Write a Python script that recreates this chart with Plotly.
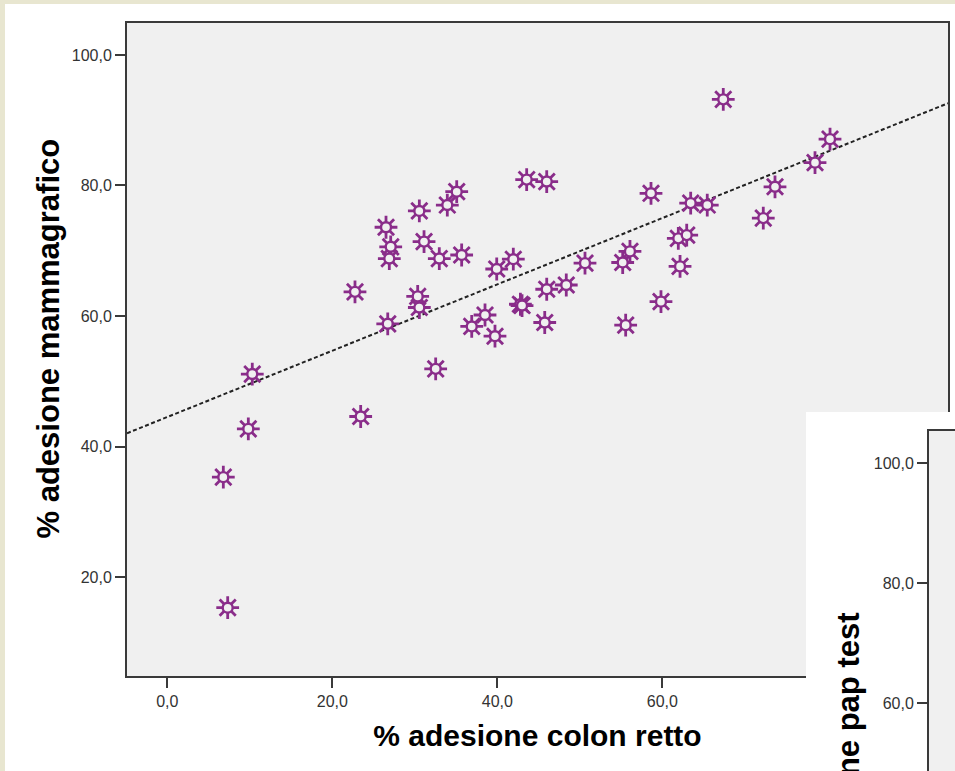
import numpy as np
import plotly.graph_objects as go

# ---------------- data ----------------
colon_retto = [7.32, 6.79, 9.82, 10.30, 22.75, 23.44, 26.51, 27.08, 26.91, 26.72,
               30.55, 31.12, 30.35, 30.55, 32.97, 32.53, 33.94, 35.08, 35.68, 36.90,
               38.51, 39.72, 39.93, 41.94, 42.80, 43.00, 43.56, 45.99, 45.75, 45.99,
               48.36, 50.63, 55.20, 56.08, 55.56, 58.63, 59.84, 62.15, 61.94, 62.96,
               63.44, 65.45, 67.39, 72.24, 73.66, 78.51, 80.33]
mammografico = [15.3, 35.3, 42.7, 51.1, 63.7, 44.6, 73.6, 70.6, 68.8, 58.8,
                76.1, 71.4, 63.0, 61.3, 68.8, 51.9, 77.0, 79.05, 69.35, 58.4,
                60.15, 56.9, 67.2, 68.7, 61.8, 61.6, 80.9, 80.6, 59.0, 64.1,
                64.75, 68.1, 68.2, 69.9, 58.6, 78.8, 62.2, 67.6, 71.9, 72.4,
                77.3, 77.0, 93.2, 75.0, 79.8, 83.5, 87.1]

x_title = "% adesione colon retto"
y_title = "% adesione mammagrafico"
y2_title = "% adesione pap test"

x_range = [-4.885, 94.63]
y_range = [4.83, 104.9]
pap_y_range = [48.67, 105.33]
tick_step = 20

# ---------------- style ----------------
W, H = 955, 771
PURPLE = "#8a2d8a"
PLOT_BG = "#f0f0f0"
BEIGE = "#e8e6d0"
AXIS = "#3a3a3a"
FONT = "Liberation Sans, Arial, sans-serif"

# regression (fit line at total)
slope, intercept = np.polyfit(colon_retto, mammografico, 1)
fit_x = np.array(x_range)
fit_y = intercept + slope * fit_x

fig = go.Figure()
fig.add_trace(go.Scatter(x=fit_x, y=fit_y, mode="lines",
                         line=dict(color="#222222", width=2, dash="4px,2.5px"),
                         hoverinfo="skip"))
fig.add_trace(go.Scatter(x=colon_retto, y=mammografico, mode="markers",
                         marker=dict(symbol="asterisk-open", size=19, color=PURPLE,
                                     line=dict(width=2.8, color=PURPLE))))
fig.add_trace(go.Scatter(x=colon_retto, y=mammografico, mode="markers",
                         marker=dict(symbol="circle", size=10, color=PLOT_BG,
                                     line=dict(width=2.4, color=PURPLE))))
# overlapping white panel and second chart (pap test)
fig.add_trace(go.Scatter(x=[], y=[], xaxis="x2", yaxis="y2"))
fig.add_trace(go.Scatter(x=[], y=[], xaxis="x3", yaxis="y3"))

tick_common = dict(ticks="outside", ticklen=10, tickwidth=2, tickcolor=AXIS,
                   showline=True, linecolor=AXIS, linewidth=2,
                   showgrid=False, zeroline=False, tickformat=".1f",
                   tick0=0, dtick=tick_step,
                   tickfont=dict(size=16, color="#333333", family=FONT))
title_font_x = dict(size=30, color="black", family=FONT, weight="bold")
title_font_y = dict(size=31, color="black", family=FONT, weight="bold")

fig.update_layout(
    width=W, height=H,
    margin=dict(l=0, r=0, t=0, b=0, pad=0),
    paper_bgcolor="white", plot_bgcolor=PLOT_BG,
    showlegend=False, separators=",.",
    font=dict(family=FONT, color="#333333"),
    xaxis=dict(domain=[127 / W, 948 / W], range=x_range, mirror=True, anchor="y",
               title=dict(text=x_title, font=title_font_x, standoff=16),
               **tick_common),
    yaxis=dict(domain=[1 - 676 / H, 1 - 23 / H], range=y_range, mirror=True, anchor="x",
               **tick_common),
    xaxis2=dict(domain=[806 / W, 1], range=[0, 1], visible=False, anchor="y2"),
    yaxis2=dict(domain=[0, 1 - 412 / H], range=[0, 1], visible=False, anchor="x2"),
    xaxis3=dict(domain=[929 / W, 1], range=x_range, side="top", showline=True, anchor="y3",
                linecolor=AXIS, linewidth=2, showticklabels=False, ticks="",
                showgrid=False, zeroline=False),
    yaxis3=dict(domain=[0, 1 - 431 / H], range=pap_y_range, anchor="x3", **tick_common),
    shapes=[
        dict(type="rect", xref="paper", yref="paper", x0=0, x1=5 / W, y0=0, y1=1,
             fillcolor=BEIGE, line=dict(width=0), layer="below"),
        dict(type="rect", xref="paper", yref="paper", x0=0, x1=1, y0=1 - 4 / H, y1=1,
             fillcolor=BEIGE, line=dict(width=0), layer="below"),
        dict(type="rect", xref="x2", yref="y2", x0=-1, x1=2, y0=-1, y1=2,
             fillcolor="white", line=dict(width=0), layer="below"),
    ],
    annotations=[
        dict(text=y_title, xref="paper", yref="paper", x=47.5 / W, y=1 - 339 / H,
             xanchor="center", yanchor="middle", textangle=-90, showarrow=False,
             font=title_font_y),
        dict(text=y2_title, xref="paper", yref="paper", x=847.5 / W, y=1 - 611 / H,
             xanchor="center", yanchor="top", textangle=-90, showarrow=False,
             font=title_font_y),
    ],
)

fig.write_html("out.html", config={"displayModeBar": False},
               post_script="document.body.style.margin='0';document.body.style.overflow='hidden';")
